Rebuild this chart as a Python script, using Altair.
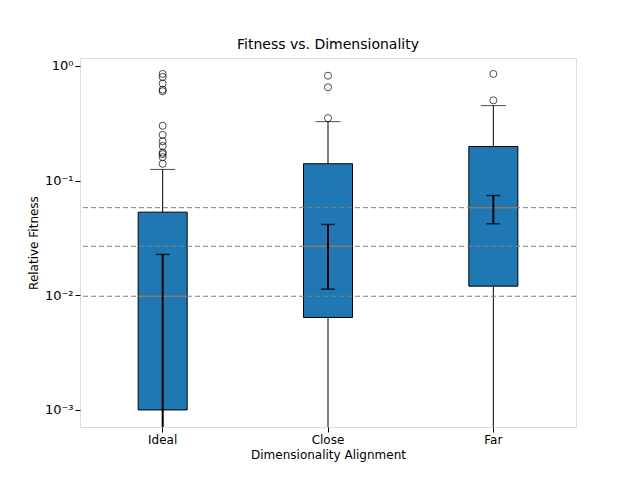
import altair as alt
import pandas as pd

cats = ["Ideal", "Close", "Far"]
q1 = [0.001, 0.0064, 0.012]
q3 = [0.053, 0.14, 0.198]
med = [0.0098, 0.0267, 0.058]
wlo = [0.0001, 0.0001, 0.0001]
whi = [0.125, 0.326, 0.45]
elo = [0.0001, 0.0113, 0.042]
ehi = [0.0227, 0.0414, 0.074]
outliers = {
    "Ideal": [0.14, 0.16, 0.17, 0.175, 0.2, 0.22, 0.25, 0.3, 0.6, 0.62, 0.7, 0.8, 0.85],
    "Close": [0.35, 0.65, 0.82],
    "Far": [0.5, 0.85],
}

df = pd.DataFrame(dict(cat=cats, q1=q1, q3=q3, med=med, wlo=wlo, whi=whi, elo=elo, ehi=ehi))
od = pd.DataFrame([(c, v) for c in cats for v in outliers[c]], columns=["cat", "v"])
hl = pd.DataFrame({"v": med})

F = "DejaVu Sans"
ys = alt.Scale(type="log", domain=[0.00071, 1.17], nice=False)
xenc = alt.X("cat:N", sort=cats, title="Dimensionality Alignment",
             scale=alt.Scale(paddingInner=0, paddingOuter=0),
             axis=alt.Axis(labelAngle=0, labelColor="black", titleColor="black", domain=False, grid=False, ticks=True, tickColor="black", labelFontSize=12, titleFontSize=12, titleFontWeight="normal", labelFont=F, titleFont=F, titlePadding=4))
yaxis = alt.Axis(values=[0.001, 0.01, 0.1, 1], grid=False, domain=False, tickColor="black",
                 labelExpr="datum.value >= 1 ? '10⁰' : datum.value >= 0.1 ? '10⁻¹' : datum.value >= 0.01 ? '10⁻²' : '10⁻³'",
                 labelFontSize=13, titleFontSize=12, titleFontWeight="normal", labelFont=F, titleFont=F, labelColor="black", titleColor="black")

base = alt.Chart(df)
whisk = base.mark_rule(color="black", clip=True).encode(x=xenc, y=alt.Y("wlo:Q", scale=ys, axis=yaxis, title="Relative Fitness"), y2="whi:Q")
box = base.mark_bar(size=49, color="#1f77b4", stroke="black", strokeWidth=1).encode(x=xenc, y=alt.Y("q1:Q", scale=ys), y2="q3:Q")
wcap = base.mark_tick(color="black", size=25, thickness=1).encode(x=xenc, y=alt.Y("whi:Q", scale=ys))
medl = base.mark_tick(color="#ff7f0e", size=49, thickness=1).encode(x=xenc, y=alt.Y("med:Q", scale=ys))
hline = alt.Chart(hl).mark_rule(color="gray", strokeDash=[5, 3]).encode(y=alt.Y("v:Q", scale=ys))
err = base.mark_rule(color="black", strokeWidth=2, clip=True).encode(x=xenc, y=alt.Y("elo:Q", scale=ys), y2="ehi:Q")
ecap1 = base.mark_tick(color="black", size=14, thickness=1.5, clip=True).encode(x=xenc, y=alt.Y("elo:Q", scale=ys))
ecap2 = base.mark_tick(color="black", size=14, thickness=1.5).encode(x=xenc, y=alt.Y("ehi:Q", scale=ys))
pts = alt.Chart(od).mark_point(shape="circle", color="black", filled=False, size=50, strokeWidth=1).encode(x=xenc, y=alt.Y("v:Q", scale=ys))

chart = alt.layer(whisk, box, wcap, medl, hline, err, ecap1, ecap2, pts).properties(
    width=496, height=369,
    title=alt.Title("Fitness vs. Dimensionality", fontSize=14, fontWeight="normal", font=F, color="black", offset=6),
    autosize="none",
    padding={"left": 72, "top": 50, "right": 56, "bottom": 45},
).configure_view(stroke="black", strokeWidth=1).configure(background="white")

chart.save("out.html", embed_options={"renderer": "svg", "actions": False})
